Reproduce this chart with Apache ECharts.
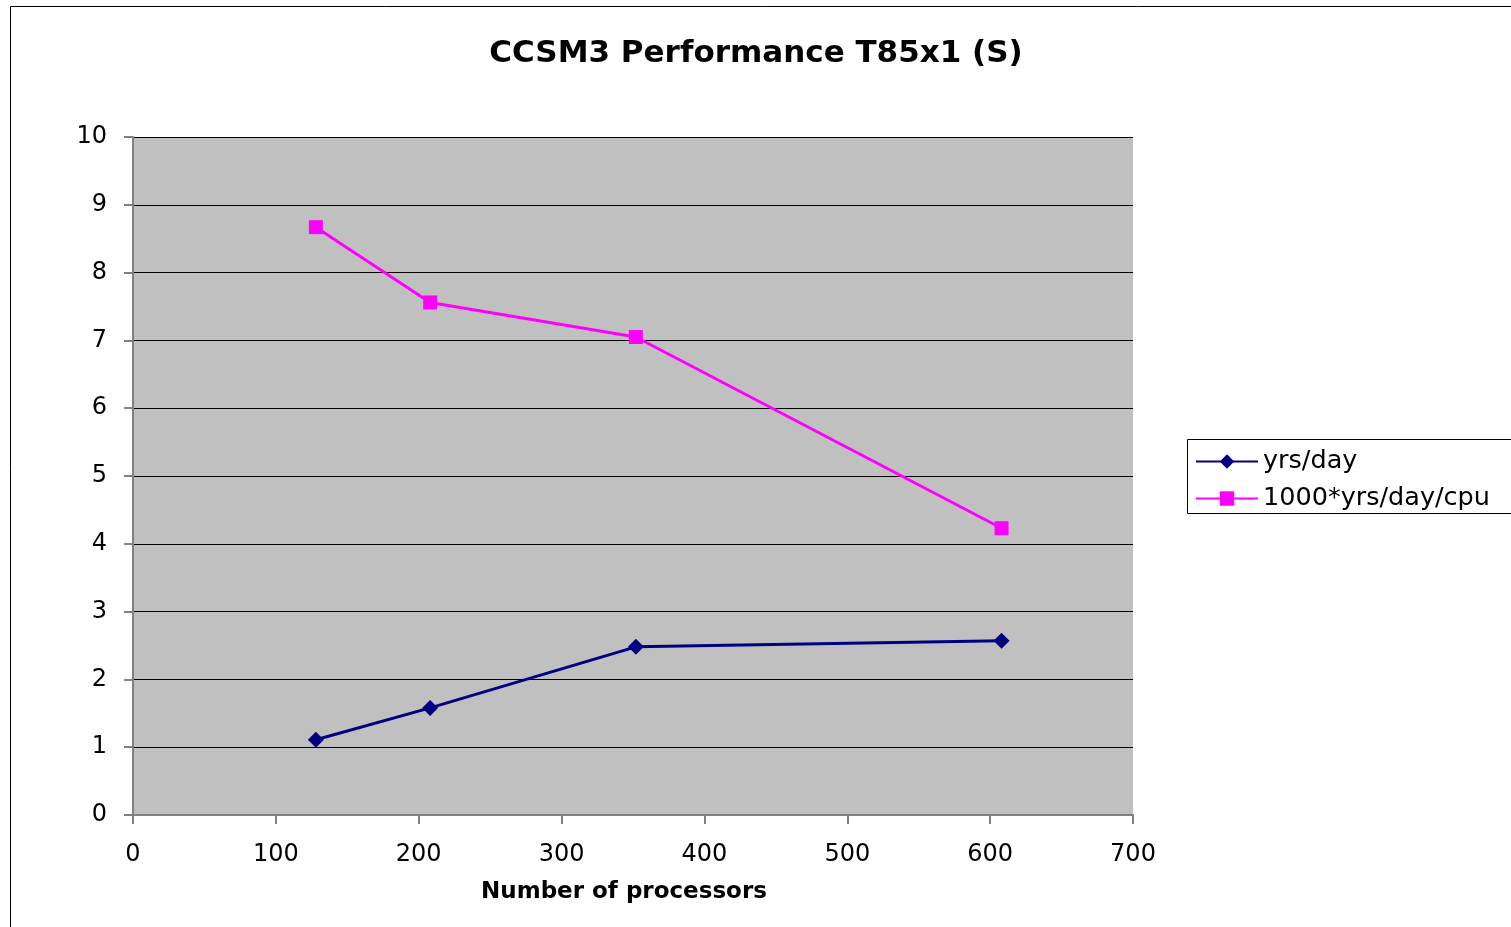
<!DOCTYPE html>
<html><head><meta charset="utf-8">
<script src="https://cdn.jsdelivr.net/npm/echarts@6/dist/echarts.min.js"></script>
<style>html,body{margin:0;padding:0;background:#fff}#c{width:1511px;height:927px}</style>
</head><body><div id="c"></div>
<script>
const processors = [128, 208, 352, 608];
const yrsPerDay = [1.11, 1.58, 2.48, 2.57];
const perCpu = [8.67, 7.56, 7.05, 4.23];
const seriesNames = ['yrs/day', '1000*yrs/day/cpu'];
const titleText = 'CCSM3 Performance T85x1 (S)';
const xAxisTitle = 'Number of processors';

const F = 'Verdana, "DejaVu Sans", sans-serif';
const chart = echarts.init(document.getElementById('c'), null, {renderer: 'canvas'});
chart.setOption({
  animation: false,
  backgroundColor: '#fff',
  title: {text: titleText, left: 751, top: 33, textAlign: 'center',
    textStyle: {fontFamily: F, fontWeight: 'bold', fontSize: 31, color: '#000'}},
  graphic: [
    {type: 'rect', shape: {x: 10.5, y: 6.5, width: 1520, height: 940}, style: {fill: 'none', stroke: '#000', lineWidth: 1}, z: -10},
    {type: 'rect', shape: {x: 1187.5, y: 439.5, width: 400, height: 74}, style: {fill: '#fff', stroke: '#000', lineWidth: 1}, z: 5}
  ],
  grid: {left: 133, right: 378, top: 137, bottom: 112, show: true, backgroundColor: '#c0c0c0', borderWidth: 0},
  legend: {left: 1190, top: 442, orient: 'vertical', itemWidth: 62, itemHeight: 18, itemGap: 8, z: 10,
    textStyle: {fontFamily: F, fontSize: 25.5, color: '#000', lineHeight: 29},
    data: seriesNames},
  xAxis: {type: 'value', min: 0, max: 700, interval: 100,
    name: xAxisTitle, nameLocation: 'middle', nameGap: 66,
    nameTextStyle: {fontFamily: F, fontWeight: 'bold', fontSize: 23, color: '#000', padding: [0, 18, 0, 0]},
    axisLine: {show: true, lineStyle: {color: '#808080', width: 2}},
    axisTick: {show: true, inside: false, length: 9, lineStyle: {color: '#808080', width: 2}},
    axisLabel: {fontFamily: F, fontSize: 24, color: '#000', margin: 28},
    splitLine: {show: false}},
  yAxis: {type: 'value', min: 0, max: 10, interval: 1,
    axisLine: {show: true, lineStyle: {color: '#808080', width: 2}},
    axisTick: {show: true, inside: false, length: 9, lineStyle: {color: '#808080', width: 2}},
    axisLabel: {fontFamily: F, fontSize: 24, color: '#000', margin: 26, padding: [6, 0, 0, 0]},
    splitLine: {show: true, lineStyle: {color: '#000', width: 1}}},
  series: [
    {name: seriesNames[0], type: 'line', data: processors.map((p, i) => [p, yrsPerDay[i]]),
      symbol: 'diamond', symbolSize: 16, color: '#000080',
      lineStyle: {color: '#000080', width: 3}, itemStyle: {color: '#000080'}},
    {name: seriesNames[1], type: 'line', data: processors.map((p, i) => [p, perCpu[i]]),
      symbol: 'rect', symbolSize: 14, color: '#ff00ff',
      lineStyle: {color: '#ff00ff', width: 3}, itemStyle: {color: '#ff00ff'}}
  ]
});
</script></body></html>
